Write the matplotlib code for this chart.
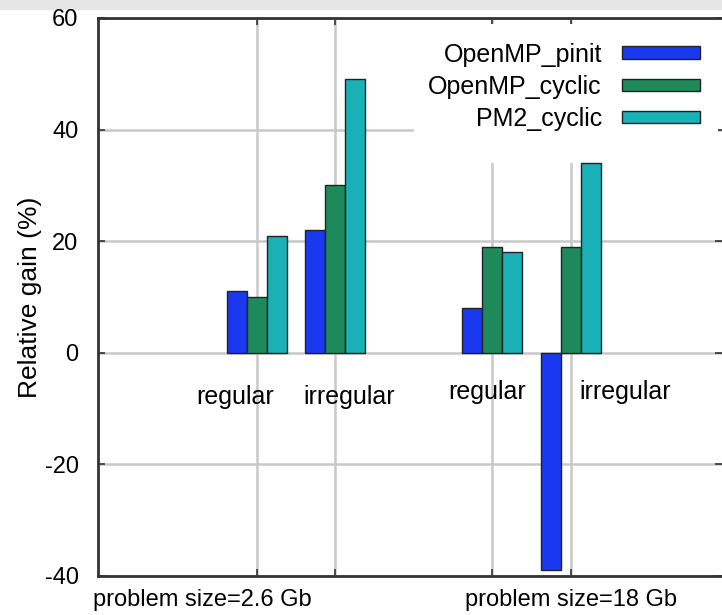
import numpy as np
import matplotlib.pyplot as plt
from matplotlib.patches import Rectangle

plt.rcParams['font.family'] = ['Liberation Sans', 'DejaVu Sans']
plt.rcParams['axes.unicode_minus'] = False

# datos
series = ['OpenMP_pinit', 'OpenMP_cyclic', 'PM2_cyclic']
colores = ['#1a38f0', '#1e8a5c', '#19b0b6']
posiciones = [1, 2, 4, 5]
etiquetas = ['regular', 'irregular', 'regular', 'irregular']
pinit = [11, 22, 8, -39]
cyclic = [10, 30, 19, 19]
pm2 = [21, 49, 18, 34]
tamanos = ['problem size=2.6 Gb', 'problem size=18 Gb']

fig = plt.figure(figsize=(7.22, 6.15), dpi=100)
ax = fig.add_axes([98/722, 39/615, 624/722, 558/615])

ancho = 0.255
x = np.array(posiciones)
for i, (vals, col, nom) in enumerate(zip([pinit, cyclic, pm2], colores, series)):
    ax.bar(x + (i - 1) * ancho, vals, width=ancho, color=col,
           edgecolor='#222222', linewidth=1.0, label=nom, zorder=3)

ax.set_xlim(-1.025, 6.925)
ax.set_ylim(-40, 60)
ax.set_yticks([-40, -20, 0, 20, 40, 60])
ax.set_xticks(posiciones)
ax.set_xticklabels([])
ax.grid(True, color='#c8c8c8', linewidth=1.8)
ax.tick_params(axis='both', direction='in', length=5, width=1.2, color='#333333',
               top=True, right=True, labelsize=17, pad=14)
for lado in ['left', 'bottom', 'top']:
    ax.spines[lado].set_color('#333333')
    ax.spines[lado].set_linewidth(2)
ax.spines['right'].set_visible(False)

ax.set_ylabel('Relative gain (%)', fontsize=19, labelpad=2)

# zona blanca detras de la leyenda (tapa la rejilla)
ax.add_patch(Rectangle((3.0, 34), 3.87, 24.9, facecolor='white', edgecolor='none', zorder=2))

# etiquetas de categorias
desplaz = [-0.28, 0.17, -0.07, 0.69]
alturas = [-7.9, -7.9, -7.0, -7.0]
for p, e, d, h in zip(posiciones, etiquetas, desplaz, alturas):
    ax.text(p + d, h, e, ha='center', va='center', fontsize=18)

ax.text(0.30, -44.3, tamanos[0], ha='center', va='center', fontsize=17)
ax.text(5.0, -44.3, tamanos[1], ha='center', va='center', fontsize=17)

leg = ax.legend(loc='upper right', bbox_to_anchor=(0.9647, 0.956), frameon=False,
                fontsize=18, markerfirst=False, handlelength=3.12, handleheight=0.4,
                labelspacing=0.33, borderaxespad=0, borderpad=0,
                handletextpad=0.8)
leg.set_zorder(5)

# barra gris superior
fig.patches.append(Rectangle((0, 1 - 9/615), 1, 9/615, transform=fig.transFigure,
                             color='#e6e6e6', zorder=-1))

fig.savefig('out.png', dpi=100)
